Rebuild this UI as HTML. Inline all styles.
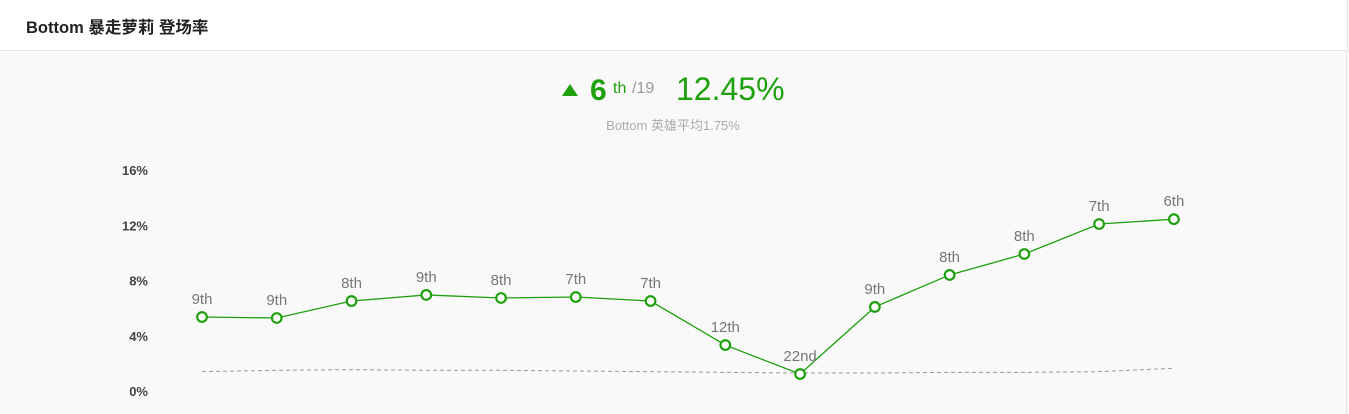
<!DOCTYPE html>
<html><head><meta charset="utf-8"><style>
body{margin:0;width:1349px;height:414px;overflow:hidden;background:#f9f9f9;font-family:"Liberation Sans","Noto Sans CJK SC",sans-serif;}
.hdr{position:absolute;left:0;top:0;width:1347px;height:50px;background:#fff;border-bottom:1px solid #e3e3e3;border-right:1px solid #e3e3e3;}
.hdr h1{margin:0;position:absolute;left:26px;top:14px;font-size:16.5px;font-weight:bold;color:#222;}
.rb{position:absolute;left:1346px;top:50px;width:1px;height:364px;background:#e3e3e3;}
svg{position:absolute;left:0;top:0;}
</style></head><body>
<div class="hdr"><h1>Bottom 暴走萝莉 登场率</h1></div>
<div class="rb"></div>
<svg width="1349" height="414">
<polygon points="562,96 578,96 570,84" fill="#1ea00e"/>
<text x="590" y="100" font-size="30" font-weight="bold" fill="#1ea00e">6</text>
<text x="613" y="93" font-size="16" fill="#1ea00e">th</text>
<text x="632" y="93" font-size="16" fill="#999">/19</text>
<text x="676" y="100" font-size="32" fill="#1ea00e">12.45%</text>
<text x="673" y="130" font-size="13" fill="#aaa" text-anchor="middle">Bottom 英雄平均1.75%</text>
<g id="g"></g>
</svg>
<script>
const yTicks=[0,4,8,12,16];
const rates=[5.36,5.29,6.52,6.96,6.74,6.81,6.52,3.33,1.23,6.09,8.41,9.93,12.1,12.45];
const ranks=["9th","9th","8th","9th","8th","7th","7th","12th","22nd","9th","8th","8th","7th","6th"];
const avg=[1.4,1.5,1.55,1.5,1.5,1.45,1.4,1.35,1.3,1.3,1.35,1.35,1.4,1.65];
const NS="http://www.w3.org/2000/svg",g=document.getElementById('g');
const x=i=>202+i*74.76, y=v=>391-v*13.8;
function mk(t,a){const e=document.createElementNS(NS,t);for(const k in a)e.setAttribute(k,a[k]);g.appendChild(e);return e;}
yTicks.forEach(v=>{const t=mk('text',{x:148,y:y(v)+5,'font-size':13,'font-weight':'bold',fill:'#444','text-anchor':'end'});t.textContent=v+'%';

});
let d='';avg.forEach((v,i)=>{d+=(i?'L':'M')+x(i)+','+y(v);});
const a=mk('path',{d:d,fill:'none',stroke:'#999','stroke-dasharray':'4,3','stroke-width':1});


let d2='';rates.forEach((v,i)=>{d2+=(i?'L':'M')+x(i)+','+y(v);});
const l=mk('path',{d:d2,fill:'none',stroke:'#1ea00e','stroke-width':1.3});


rates.forEach((v,i)=>{
const c=mk('circle',{cx:x(i),cy:y(v),r:4.8,fill:'#fff',stroke:'#1ea00e','stroke-width':2.2});


const t=mk('text',{x:x(i),y:y(v)-13,'font-size':15,fill:'#777','text-anchor':'middle'});t.textContent=ranks[i];


});
</script>
</body></html>
